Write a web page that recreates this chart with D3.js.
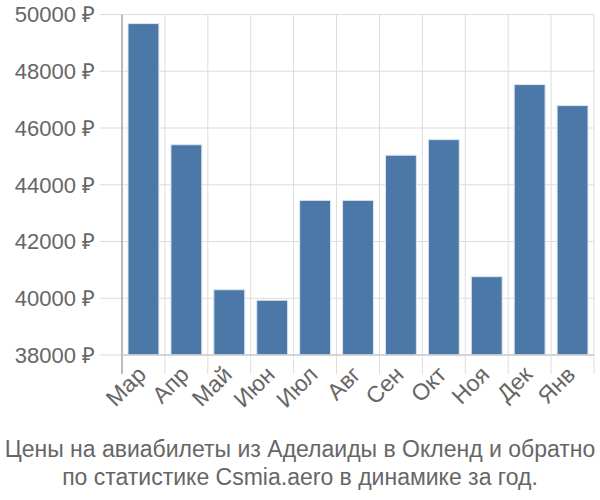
<!DOCTYPE html>
<html><head><meta charset="utf-8">
<script src="https://cdn.jsdelivr.net/npm/d3@7"></script>
<style>body{margin:0;background:#fff}svg{display:block}text{font-family:"Liberation Sans",Arial,sans-serif}</style>
</head><body><svg id="c" width="600" height="500"></svg>
<script>
const categories = ["Мар","Апр","Май","Июн","Июл","Авг","Сен","Окт","Ноя","Дек","Янв"];
const values = [49680, 45410, 40300, 39930, 43450, 43450, 45040, 45590, 40760, 47530, 46790];
const yTicks = [38000, 40000, 42000, 44000, 46000, 48000, 50000];
const titleLines = ["Цены на авиабилеты из Аделаиды в Окленд и обратно","по статистике Csmia.aero в динамике за год."];

const svg = d3.select("#c");
const m = {l:122, r:594, t:14.5, b:355};
const x = d3.scaleBand().domain(categories).range([m.l, m.r]).paddingInner(0.28).paddingOuter(0.14);
const y = d3.scaleLinear().domain([38000, 50000]).range([m.b, m.t]);
const step = x.step();

// horizontal grid
svg.append("g").selectAll("line").data(yTicks).join("line")
  .attr("x1", 100).attr("x2", m.r).attr("y1", d=>y(d)).attr("y2", d=>y(d))
  .attr("stroke", "#ddd").attr("stroke-width", 1);
// vertical grid at band boundaries
const bounds = d3.range(categories.length + 1).map(i => m.l + i*step);
svg.append("g").selectAll("line").data(bounds).join("line")
  .attr("x1", d=>d).attr("x2", d=>d).attr("y1", m.t).attr("y2", m.b + 19)
  .attr("stroke", "#ddd").attr("stroke-width", 1);

// bars
svg.append("g").selectAll("rect").data(values).join("rect")
  .attr("x", (d,i)=>x(categories[i])).attr("width", x.bandwidth())
  .attr("y", d=>y(d)).attr("height", d=>y(38000)-y(d))
  .attr("fill", "#4c78a8").attr("stroke", "#dbe6f2").attr("stroke-width", 1);

// axes lines
svg.append("line").attr("x1", m.l).attr("x2", m.l).attr("y1", m.t).attr("y2", m.b + 19)
  .attr("stroke", "#aaa").attr("stroke-width", 1.5);
svg.append("line").attr("x1", m.l).attr("x2", m.r).attr("y1", m.b).attr("y2", m.b)
  .attr("stroke", "#ccc").attr("stroke-width", 1.5);

// y labels
svg.append("g").selectAll("text").data(yTicks).join("text")
  .attr("x", 95).attr("y", d=>y(d)).attr("dy", "0.36em")
  .attr("text-anchor", "end").attr("fill", "#666").attr("font-size", 22)
  .text(d=>d + " ₽");

// x labels
svg.append("g").selectAll("text").data(categories).join("text")
  .attr("transform", d=>`translate(${x(d)+x.bandwidth()/2+4},${m.b+21}) rotate(-45)`)
  .attr("text-anchor", "end").attr("fill", "#666").attr("font-size", 23)
  .text(d=>d);

// title
svg.append("g").selectAll("text").data(titleLines).join("text")
  .attr("x", 300).attr("y", (d,i)=>457 + i*28).attr("text-anchor", "middle")
  .attr("fill", "#666").attr("font-size", 23).text(d=>d);
</script></body></html>
